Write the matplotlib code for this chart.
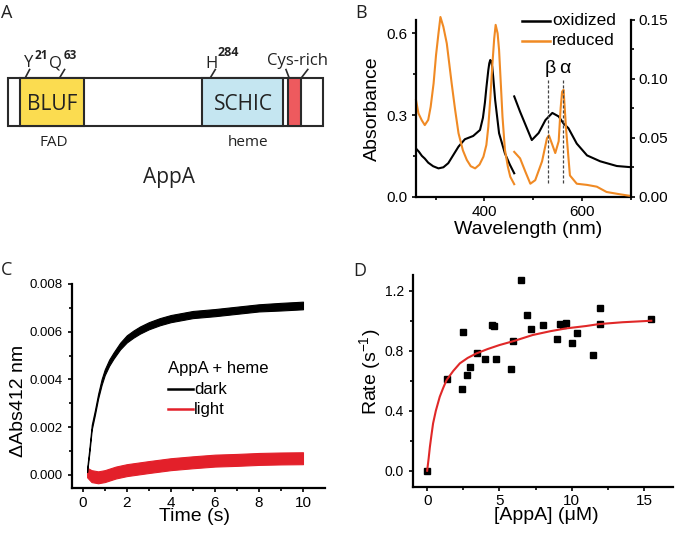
import matplotlib
matplotlib.use('Agg')
import matplotlib.pyplot as plt
from matplotlib.patches import Rectangle
from matplotlib.ticker import FixedLocator, FormatStrFormatter

# ---------------- data ----------------
# Panel B: absorbance spectra (left part on left axis, right part on right axis)
ox_left_nm = [261, 266, 272, 278, 285, 295, 306, 316, 326, 337, 347, 360, 377, 391, 397, 401, 404, 408, 410, 412, 414, 416, 418, 422, 430, 442, 452, 461]
ox_left_abs = [0.175, 0.165, 0.150, 0.140, 0.125, 0.112, 0.104, 0.108, 0.123, 0.155, 0.184, 0.211, 0.223, 0.245, 0.29, 0.345, 0.40, 0.465, 0.49, 0.502, 0.497, 0.477, 0.44, 0.355, 0.233, 0.159, 0.118, 0.086]
red_left_nm = [260, 265, 272, 278, 285, 290, 296, 301, 306, 310, 316, 323, 333, 340, 347, 356, 364, 372, 381, 390, 398, 404, 408, 412, 416, 420, 423, 427, 430, 434, 437, 442, 448, 453, 461]
red_left_abs = [0.355, 0.306, 0.280, 0.263, 0.282, 0.33, 0.416, 0.52, 0.60, 0.66, 0.624, 0.563, 0.416, 0.32, 0.233, 0.17, 0.135, 0.112, 0.104, 0.118, 0.147, 0.19, 0.257, 0.36, 0.477, 0.58, 0.631, 0.60, 0.539, 0.40, 0.294, 0.172, 0.11, 0.073, 0.046]
ox_right_nm = [461, 473, 487, 497, 511, 525, 539, 552, 562, 572, 589, 610, 637, 671, 700]
ox_right_abs = [0.085, 0.072, 0.058, 0.048, 0.054, 0.065, 0.071, 0.068, 0.062, 0.058, 0.045, 0.035, 0.030, 0.026, 0.025]
red_right_nm = [461, 473, 484, 494, 504, 518, 528, 532, 539, 545, 552, 556, 559, 562, 567, 575, 589, 610, 630, 650, 678, 700]
red_right_abs = [0.038, 0.0325, 0.021, 0.011, 0.014, 0.030, 0.0495, 0.052, 0.044, 0.037, 0.047, 0.075, 0.089, 0.0906, 0.058, 0.018, 0.011, 0.010, 0.0085, 0.004, 0.002, 0.0006]
peak_nm = [530, 561]
peak_labels = ['β', 'α']
peak_lo, peak_hi = 0.0113, 0.099

# Panel C: kinetic traces (centre and noise half-width)
dark_t = [0.2, 0.3, 0.41, 0.55, 0.7, 0.86, 1.0, 1.2, 1.4, 1.7, 2.0, 2.3, 2.6, 3.0, 3.5, 4.0, 5.0, 6.0, 7.0, 8.0, 9.0, 10.0]
dark_mid = [0.0002, 0.0010, 0.0020, 0.0026, 0.0033, 0.0039, 0.0043, 0.0047, 0.0050, 0.0054, 0.0057, 0.0059, 0.00607, 0.00625, 0.00642, 0.00655, 0.00672, 0.0068, 0.0069, 0.0070, 0.00705, 0.0071]
dark_noise = [0.00008, 0.0001, 0.0001, 0.0001, 0.0001, 0.00012, 0.00012, 0.00013, 0.00013, 0.00014, 0.00015, 0.00015, 0.00015, 0.00015, 0.00015, 0.00015, 0.00015, 0.00015, 0.00015, 0.00015, 0.00016, 0.00016]
light_t = [0.2, 0.4, 0.7, 1.0, 1.5, 2.0, 3.0, 4.0, 5.0, 6.0, 7.0, 8.0, 9.0, 10.0]
light_mid = [0.0001, -0.00005, -0.0001, -0.00005, 0.0001, 0.0002, 0.00033, 0.00045, 0.00053, 0.0006, 0.00063, 0.00067, 0.00069, 0.0007]
light_noise = [0.0002, 0.00025, 0.00025, 0.00025, 0.00025, 0.00025, 0.00025, 0.00025, 0.00025, 0.00025, 0.00025, 0.00025, 0.00025, 0.00025]

# Panel D: rate vs [AppA]
appa_conc = [0, 1.38, 2.39, 2.48, 2.76, 2.97, 3.47, 3.98, 4.48, 4.60, 4.76, 5.79, 5.96, 6.48, 6.88, 7.17, 7.98, 8.97, 9.17, 9.40, 9.61, 10.0, 10.39, 11.5, 11.98, 11.98, 15.47]
rate = [0, 0.611, 0.542, 0.925, 0.638, 0.69, 0.787, 0.747, 0.971, 0.964, 0.745, 0.676, 0.865, 1.271, 1.038, 0.942, 0.969, 0.878, 0.978, 0.975, 0.985, 0.851, 0.918, 0.769, 1.087, 0.978, 1.013]
fit_conc = [0, 0.1, 0.19, 0.3, 0.41, 0.6, 0.87, 1.1, 1.34, 1.8, 2.26, 2.8, 3.4, 4.2, 5.0, 6.0, 7.3, 8.5, 9.6, 11.0, 11.9, 13.5, 15.5]
fit_rate = [0, 0.08, 0.16, 0.24, 0.316, 0.40, 0.493, 0.55, 0.604, 0.665, 0.716, 0.752, 0.782, 0.812, 0.838, 0.865, 0.905, 0.93, 0.949, 0.965, 0.978, 0.99, 1.0]

# ---------------- style ----------------
W, H = 675, 534
plt.rcParams['font.family'] = ['Liberation Sans', 'DejaVu Sans']
plt.rcParams['mathtext.fontset'] = 'custom'
plt.rcParams['mathtext.rm'] = 'Liberation Sans'
plt.rcParams['mathtext.it'] = 'Liberation Sans:italic'
plt.rcParams['mathtext.bf'] = 'Liberation Sans:bold'
DIAG = ['Open Sans', 'DejaVu Sans']

fig = plt.figure(figsize=(6.75, 5.34), dpi=100)


def rect(l, t, r, b):
    return [l / W, 1 - b / H, (r - l) / W, (b - t) / H]


def style(ax, sides, lab=10):
    for s in ['left', 'right', 'top', 'bottom']:
        ax.spines[s].set_visible(s in sides)
        ax.spines[s].set_linewidth(1.6)
    ax.tick_params(which='both', direction='out', width=1.2, colors='k', labelsize=lab)
    ax.tick_params(which='major', length=3.2)
    ax.tick_params(which='minor', length=2.2)
    ax.patch.set_visible(False)


# overlay axes in pixel coordinates for diagram and panel letters
ov = fig.add_axes([0, 0, 1, 1])
ov.set_xlim(0, W)
ov.set_ylim(H, 0)
ov.axis('off')

for letter, (x, y) in zip('ABCD', [(6.5, 13.5), (361, 13.5), (7, 270), (360, 271)]):
    ov.text(x, y, letter, fontsize=13, family=DIAG, ha='center', va='center', color='#222222')

# ---------------- Panel A (domain diagram) ----------------
edge = '#2a2a2a'
top, hgt = 78.3, 47.7
ov.add_patch(Rectangle((8.3, top), 315, hgt, fc='white', ec=edge, lw=1.5))
ov.add_patch(Rectangle((20, top), 64, hgt, fc='#fbdc50', ec=edge, lw=1.5))
ov.add_patch(Rectangle((201.7, top), 81.6, hgt, fc='#c5e6f1', ec=edge, lw=1.5))
ov.add_patch(Rectangle((288.3, top), 12.7, hgt, fc='#ee5a5e', ec=edge, lw=1.5))
ov.text(52.5, 110, 'BLUF', fontsize=15, family=DIAG, ha='center', va='baseline', color='#222222')
ov.text(243.7, 110, 'SCHIC', fontsize=15, family=DIAG, ha='center', va='baseline', color='#222222')
ov.text(53.8, 145.7, 'FAD', fontsize=11, family=DIAG, ha='center', va='baseline', color='#222222')
ov.text(248, 145.7, 'heme', fontsize=11, family=DIAG, ha='center', va='baseline', color='#222222')
ov.text(168.7, 183.3, 'AppA', fontsize=15, family=DIAG, ha='center', va='baseline', color='#222222')
for (x0, y0, x1, y1) in [(25, 78.3, 30, 68.8), (59.3, 78.3, 65, 68.8), (210, 78.3, 215.7, 68.8),
                         (289.3, 78.3, 285.7, 68.8), (301, 78.3, 308.3, 68.8)]:
    ov.plot([x0, x1], [y0, y1], color=edge, lw=1.2, solid_capstyle='butt')
ov.text(24, 67, 'Y', fontsize=12, family=DIAG, ha='left', va='baseline', color='#222222')
ov.text(35, 59, '21', fontsize=8.5, family=DIAG, weight='bold', ha='left', va='baseline', color='#222222')
ov.text(49, 67, 'Q', fontsize=12, family=DIAG, ha='left', va='baseline', color='#222222')
ov.text(63.3, 59, '63', fontsize=8.5, family=DIAG, weight='bold', ha='left', va='baseline', color='#222222')
ov.text(205, 67.5, 'H', fontsize=12, family=DIAG, ha='left', va='baseline', color='#222222')
ov.text(217.7, 56, '284', fontsize=9, family=DIAG, weight='bold', ha='left', va='baseline', color='#222222')
ov.text(298, 65, 'Cys-rich', fontsize=12, family=DIAG, ha='center', va='baseline', color='#222222')

# ---------------- Panel B ----------------
orange = '#f08a24'
axB = fig.add_axes(rect(416, 19.7, 631, 196.7))
style(axB, ['left', 'bottom'], lab=11)
axB.plot(ox_left_nm, ox_left_abs, color='black', lw=1.5)
axB.plot(red_left_nm, red_left_abs, color=orange, lw=1.5, clip_on=False)
axB.set_xlim(260, 700)
axB.set_ylim(0, 0.65)
axB.xaxis.set_major_locator(FixedLocator([400, 600]))
axB.xaxis.set_minor_locator(FixedLocator([300, 500, 700]))
axB.yaxis.set_major_locator(FixedLocator([0, 0.3, 0.6]))
axB.yaxis.set_minor_locator(FixedLocator([0.15, 0.45]))
axB.yaxis.set_major_formatter(FormatStrFormatter('%.1f'))
axB.tick_params(axis='y', pad=3)
axB.tick_params(axis='x', pad=3)
axB.set_ylabel('Absorbance', fontsize=14)
axB.yaxis.set_label_coords(-0.2023, 0.4955)
axB.yaxis.label.set(rotation_mode='default', va='center', ha='center')
axB.set_xlabel('Wavelength (nm)', fontsize=14)
axB.xaxis.set_label_coords(0.522, -0.186)
axB.xaxis.label.set(va='center', ha='center')

axB2 = axB.twinx()
style(axB2, ['right'], lab=11)
axB2.plot(ox_right_nm, ox_right_abs, color='black', lw=1.5, label='oxidized')
axB2.plot(red_right_nm, red_right_abs, color=orange, lw=1.5, label='reduced')
axB2.set_ylim(0, 0.15)
axB2.yaxis.set_major_locator(FixedLocator([0, 0.05, 0.10, 0.15]))
axB2.yaxis.set_minor_locator(FixedLocator([0.025, 0.075, 0.125]))
axB2.yaxis.set_major_formatter(FormatStrFormatter('%.2f'))
axB2.tick_params(axis='y', pad=2)
axB2.vlines(peak_nm, peak_lo, peak_hi, colors='#444444', linestyles=(0, (2.5, 1.5)), lw=0.9)
for nm, lab in zip(peak_nm, peak_labels):
    axB2.text(nm + 4, 0.1087, lab, fontsize=14, ha='center', va='center')

# legend B (manual)
for yy, col, lab in [(20.7, 'black', 'oxidized'), (40.7, orange, 'reduced')]:
    ov.plot([521.7, 550], [yy, yy], color=col, lw=1.8)
    ov.text(552, yy, lab, fontsize=12.5, ha='left', va='center')

# ---------------- Panel C ----------------
axC = fig.add_axes(rect(71.7, 284, 325, 488.3))
style(axC, ['left', 'bottom'], lab=9.5)
dark_lo = [m - n for m, n in zip(dark_mid, dark_noise)]
dark_hi = [m + n for m, n in zip(dark_mid, dark_noise)]
light_lo = [m - n for m, n in zip(light_mid, light_noise)]
light_hi = [m + n for m, n in zip(light_mid, light_noise)]
red = '#e3202a'
axC.fill_between(light_t, light_lo, light_hi, color=red, lw=0.8)
axC.fill_between(dark_t, dark_lo, dark_hi, color='black', lw=0.8)
axC.set_xlim(-0.5, 11)
axC.set_ylim(-0.00056, 0.008)
axC.xaxis.set_major_locator(FixedLocator([0, 2, 4, 6, 8, 10]))
axC.xaxis.set_minor_locator(FixedLocator([1, 3, 5, 7, 9]))
axC.yaxis.set_major_locator(FixedLocator([0, 0.002, 0.004, 0.006, 0.008]))
axC.yaxis.set_minor_locator(FixedLocator([0.001, 0.003, 0.005, 0.007]))
axC.yaxis.set_major_formatter(FormatStrFormatter('%.3f'))
axC.tick_params(axis='y', pad=3)
axC.tick_params(axis='x', pad=2)
axC.tick_params(axis='x', labelsize=11)
axC.set_xlabel('Time (s)', fontsize=14)
axC.xaxis.set_label_coords(0.483, -0.138)
axC.xaxis.label.set(va='center', ha='center')
axC.set_ylabel('ΔAbs412 nm', fontsize=14)
axC.yaxis.set_label_coords(-0.212, 0.427)
axC.yaxis.label.set(rotation_mode='default', va='center', ha='center')

ov.text(168.3, 369, 'AppA + heme', fontsize=12, ha='left', va='center')
for yy, col, lab in [(389, 'black', 'dark'), (409.3, red, 'light')]:
    ov.plot([168.3, 193], [yy, yy], color=col, lw=1.8)
    ov.text(194, yy, lab, fontsize=12, ha='left', va='center')

# ---------------- Panel D ----------------
axD = fig.add_axes(rect(412.7, 275, 673, 486.5))
style(axD, ['left', 'bottom'], lab=10)
axD.plot(appa_conc, rate, 's', color='black', markersize=4.3, zorder=2)
axD.plot(fit_conc, fit_rate, color='#e02828', lw=1.5, zorder=3)
axD.set_xlim(-1, 17)
axD.set_ylim(-0.105, 1.305)
axD.xaxis.set_major_locator(FixedLocator([0, 5, 10, 15]))
axD.xaxis.set_minor_locator(FixedLocator([2.5, 7.5, 12.5]))
axD.yaxis.set_major_locator(FixedLocator([0, 0.4, 0.8, 1.2]))
axD.yaxis.set_minor_locator(FixedLocator([0.2, 0.6, 1.0]))
axD.yaxis.set_major_formatter(FormatStrFormatter('%.1f'))
axD.tick_params(axis='y', pad=3)
axD.tick_params(axis='x', pad=2, labelsize=11)
axD.set_xlabel('[AppA] (μM)', fontsize=14)
axD.xaxis.set_label_coords(0.515, -0.139)
axD.xaxis.label.set(va='center', ha='center')
axD.set_ylabel(r'Rate (s$^{\mathregular{-1}}$)', fontsize=14)
axD.yaxis.set_label_coords(-0.162, 0.543)
axD.yaxis.label.set(rotation_mode='default', va='center', ha='center')

fig.savefig('out.png', dpi=100)
